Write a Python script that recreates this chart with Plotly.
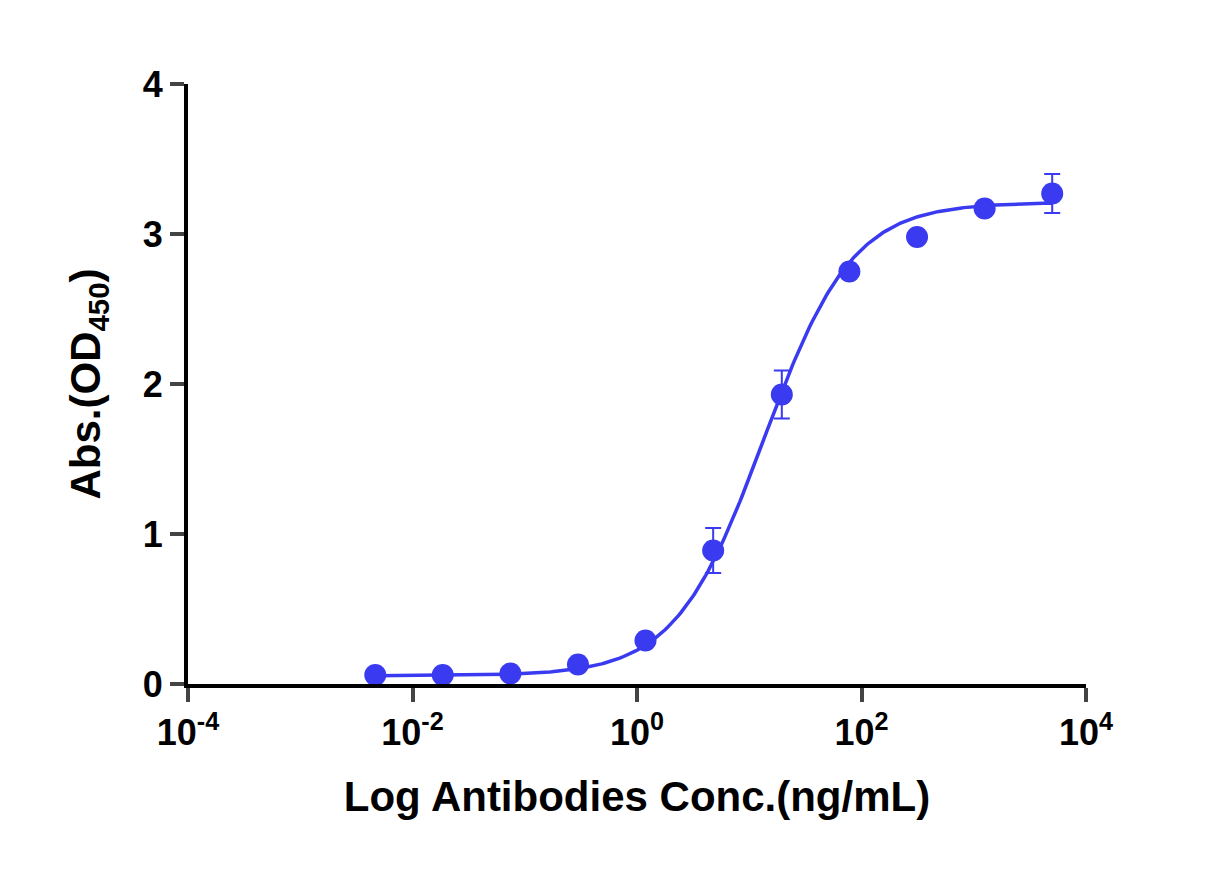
import numpy as np
import plotly.graph_objects as go

conc = [0.00466, 0.0186, 0.0745, 0.298, 1.19, 4.77, 19.5, 78.0, 312.5, 1250, 5000]
od = [0.06, 0.06, 0.07, 0.13, 0.29, 0.89, 1.93, 2.75, 2.98, 3.17, 3.27]
err = [0, 0, 0, 0, 0, 0.15, 0.16, 0, 0, 0, 0.13]
# 4PL fit parameters
bottom, top, ec50, hill = 0.055, 3.21, 13.5, 1.1
tickvals = [1e-4, 1e-2, 1, 1e2, 1e4]
ticktext = ["10<sup>-4</sup>", "10<sup>-2</sup>", "10<sup>0</sup>", "10<sup>2</sup>", "10<sup>4</sup>"]

xf = np.logspace(np.log10(conc[0]), np.log10(conc[-1]), 300)
yf = bottom + (top - bottom) / (1 + (ec50 / xf) ** hill)

col = "#3a3af0"
fig = go.Figure()
fig.add_trace(go.Scatter(x=xf, y=yf, mode="lines", line=dict(color=col, width=3.5), hoverinfo="skip"))
fig.add_trace(go.Scatter(x=conc, y=od, mode="markers",
                         marker=dict(color=col, size=22),
                         error_y=dict(type="data", array=err, color=col, thickness=2, width=8, visible=True)))
font = dict(family="Liberation Sans", size=30, color="black")
fig.update_layout(width=1227, height=887, showlegend=False, plot_bgcolor="white", paper_bgcolor="white",
                  margin=dict(l=180, r=149, t=76, b=211), font=font)
tf = dict(family="Liberation Sans", size=36, color="black")
fig.update_xaxes(type="log", range=[-4, 4], tickvals=tickvals, ticktext=["<b>" + t + "</b>" for t in ticktext],
                 showline=True, linecolor="black", linewidth=4, ticks="outside", ticklen=14, tickwidth=4,
                 showgrid=False, zeroline=False, tickfont=tf,
                 title=dict(text="<b>Log Antibodies Conc.(ng/mL)</b>", font=dict(size=42), standoff=30))
fig.update_yaxes(range=[0, 4], tickvals=[0, 1, 2, 3, 4], ticktext=["<b>%d</b>" % v for v in [0, 1, 2, 3, 4]],
                 showline=True, linecolor="black", linewidth=4, ticks="outside", ticklen=14, tickwidth=4,
                 showgrid=False, zeroline=False, tickfont=tf,
                 title=dict(text="<b>Abs.(OD<sub>450</sub>)</b>", font=dict(size=42), standoff=30))
fig.write_html("out.html")
